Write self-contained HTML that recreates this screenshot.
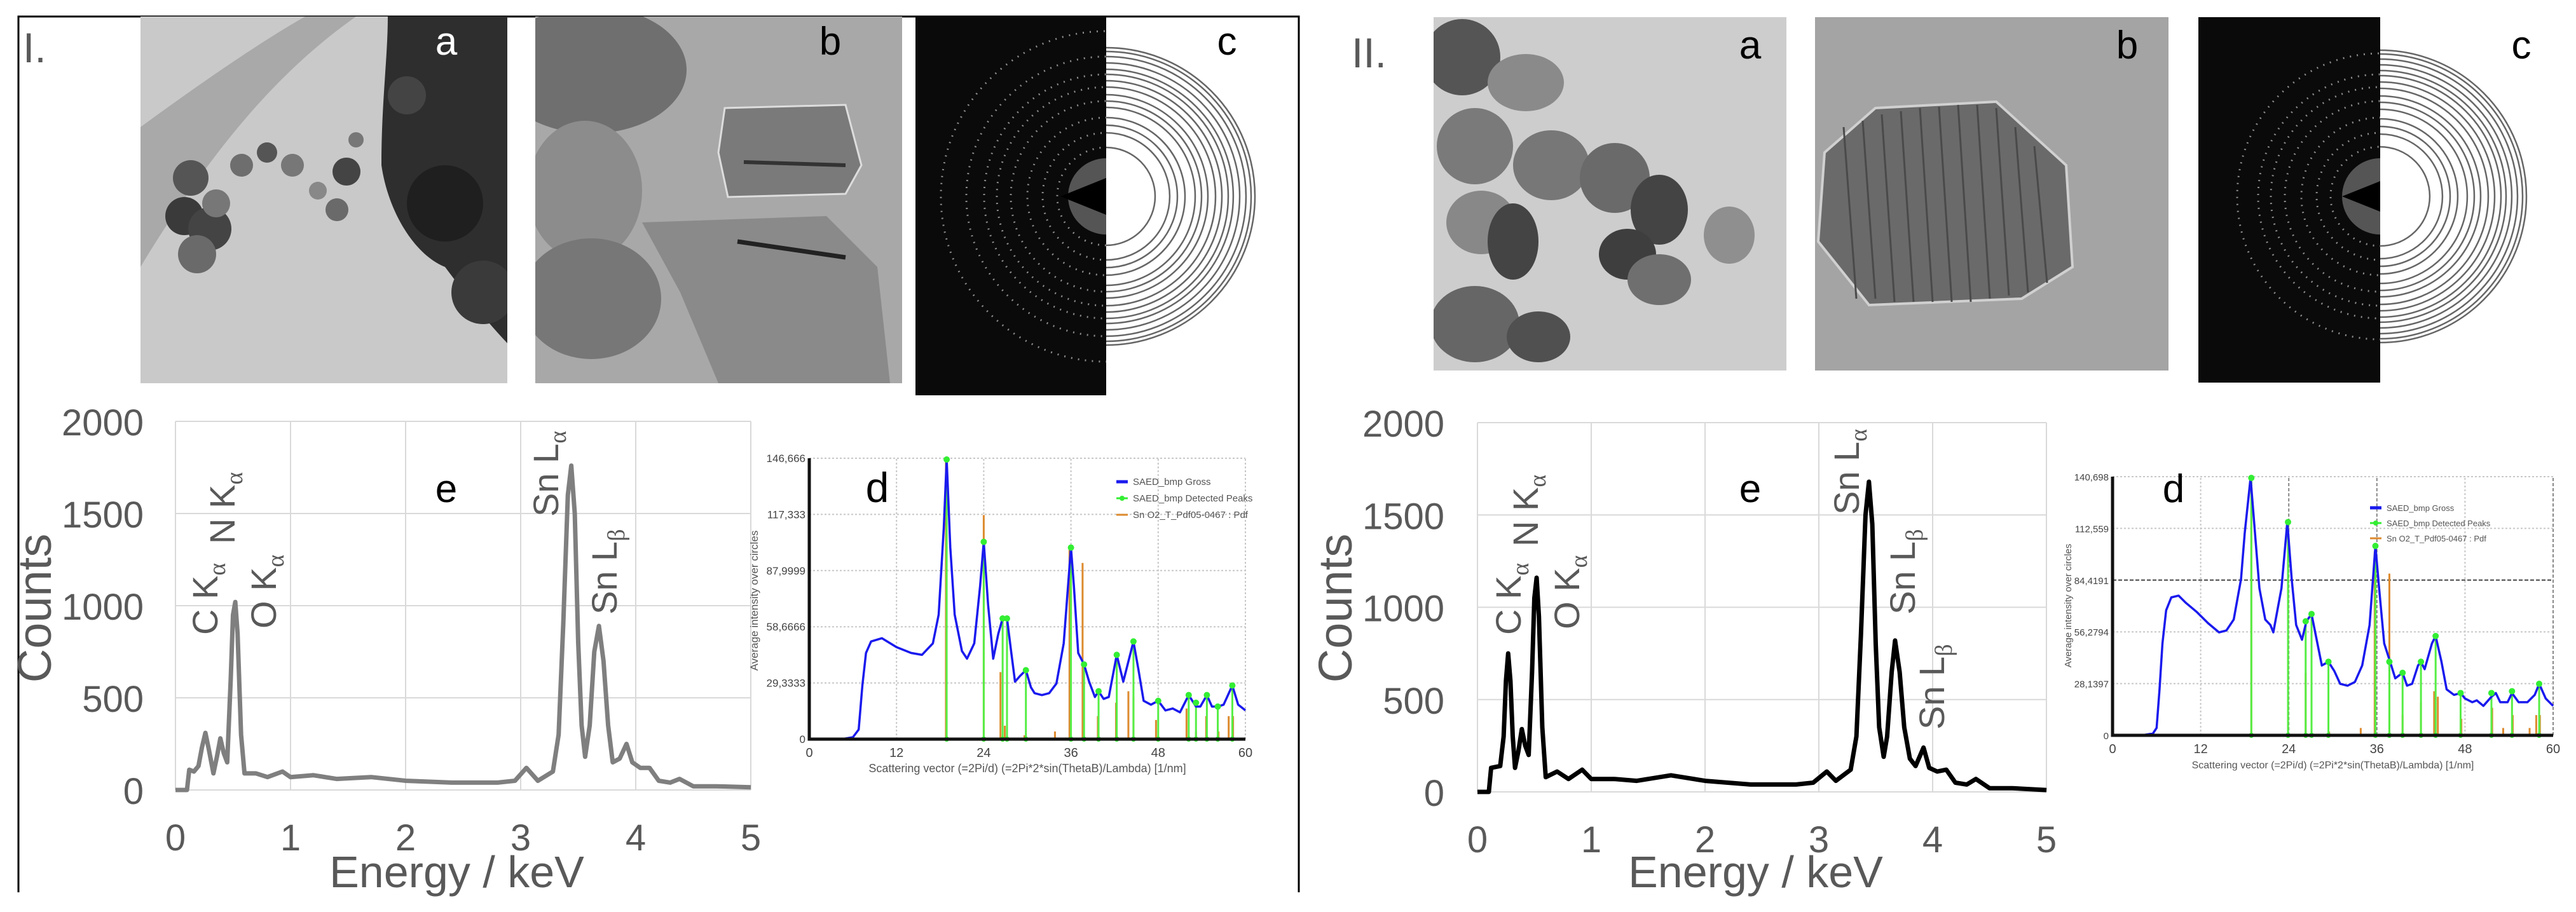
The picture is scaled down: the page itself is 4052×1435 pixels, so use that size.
<!DOCTYPE html>
<html><head><meta charset="utf-8"><style>
html,body{margin:0;padding:0;background:#fff;}
svg{display:block;font-family:"Liberation Sans",sans-serif;}
</style></head><body>
<svg id="fig" width="4052" height="1435" viewBox="0 0 4052 1435" xmlns="http://www.w3.org/2000/svg">
<defs>
<clipPath id="cA1"><rect x="221" y="26" width="577" height="577"/></clipPath>
<clipPath id="cB1"><rect x="842" y="26" width="577" height="577"/></clipPath>
<clipPath id="cC1"><rect x="1440" y="26" width="300" height="596"/></clipPath>
<clipPath id="cA2"><rect x="2255" y="27" width="555" height="556"/></clipPath>
<clipPath id="cB2"><rect x="2855" y="27" width="556" height="556"/></clipPath>
<clipPath id="cC2"><rect x="3458" y="27" width="286" height="575"/></clipPath>
</defs>
<polyline points="29,1404 29,26 2043,26 2043,1404" fill="none" stroke="#000" stroke-width="3"/>
<text x="36" y="98" font-size="66" fill="#595959">I.</text>
<text x="2126" y="106" font-size="66" fill="#595959">II.</text>

<g clip-path="url(#cA1)">
<rect x="221" y="26" width="577" height="577" fill="#c9c9c9"/>
<path d="M221,200 C330,120 420,60 480,26 L560,26 C470,90 360,190 221,420 Z" fill="#a9a9a9"/>
<g fill="#555">
<circle cx="300" cy="280" r="28"/><circle cx="290" cy="340" r="30" fill="#3a3a3a"/><circle cx="330" cy="360" r="34" fill="#444"/><circle cx="310" cy="400" r="30" fill="#6a6a6a"/><circle cx="340" cy="320" r="22" fill="#777"/>
<circle cx="380" cy="260" r="18" fill="#6e6e6e"/><circle cx="420" cy="240" r="16"/><circle cx="460" cy="260" r="18" fill="#777"/><circle cx="500" cy="300" r="14" fill="#888"/><circle cx="545" cy="270" r="22" fill="#444"/><circle cx="530" cy="330" r="18" fill="#6a6a6a"/><circle cx="560" cy="220" r="12" fill="#777"/>
</g>
<path d="M610,26 L798,26 L798,540 C760,500 730,460 700,420 C650,400 610,330 600,260 C600,160 610,90 610,26 Z" fill="#2e2e2e"/>
<circle cx="640" cy="150" r="30" fill="#444"/><circle cx="700" cy="320" r="60" fill="#1f1f1f"/><circle cx="760" cy="460" r="50" fill="#3a3a3a"/>
<rect x="221" y="603" width="577" height="19" fill="#000"/>
<line x1="443" y1="613" x2="513" y2="613" stroke="#fff" stroke-width="2"/>
<text x="522" y="618" font-size="11" fill="#fff">100 nm</text>
</g>
<text x="702" y="86" font-size="62" fill="#fff" text-anchor="middle">a</text>

<g clip-path="url(#cB1)">
<rect x="842" y="26" width="577" height="577" fill="#a8a8a8"/>
<ellipse cx="930" cy="110" rx="150" ry="100" fill="#6f6f6f"/>
<polygon points="1140,170 1330,165 1355,260 1330,305 1145,310 1130,240" fill="#7a7a7a" stroke="#ddd" stroke-width="3"/>
<line x1="1170" y1="255" x2="1330" y2="260" stroke="#333" stroke-width="6"/>
<ellipse cx="920" cy="300" rx="90" ry="110" fill="#8c8c8c"/>
<polygon points="1010,350 1300,340 1380,420 1400,603 1130,603 1070,460" fill="#8a8a8a"/>
<line x1="1160" y1="380" x2="1330" y2="405" stroke="#222" stroke-width="7"/>
<ellipse cx="930" cy="470" rx="110" ry="95" fill="#777"/>
<rect x="842" y="603" width="577" height="19" fill="#000"/>
<line x1="1075" y1="613" x2="1135" y2="613" stroke="#fff" stroke-width="2"/>
<text x="1142" y="618" font-size="11" fill="#fff">10 nm</text>
</g>
<text x="1306" y="86" font-size="62" fill="#000" text-anchor="middle">b</text>

<g clip-path="url(#cC1)">
<rect x="1440" y="26" width="300" height="596" fill="#0a0a0a"/>
<g fill="none" stroke="#8a8a8a" stroke-dasharray="2 9" stroke-width="3">
<circle cx="1740" cy="309" r="77"/><circle cx="1740" cy="309" r="100"/><circle cx="1740" cy="309" r="124"/><circle cx="1740" cy="309" r="150"/><circle cx="1740" cy="309" r="172"/><circle cx="1740" cy="309" r="192"/><circle cx="1740" cy="309" r="220"/><circle cx="1740" cy="309" r="260"/>
</g>
<circle cx="1740" cy="309" r="60" fill="#555"/>
<polygon points="1740,280 1740,338 1668,309" fill="#000"/>
</g>
<g id="rings1" fill="none" stroke="#666" stroke-width="2.5"></g>
<text x="1930" y="86" font-size="62" fill="#000" text-anchor="middle">c</text>

<g clip-path="url(#cA2)">
<rect x="2255" y="27" width="555" height="556" fill="#cdcdcd"/>
<g fill="#8a8a8a">
<ellipse cx="2300" cy="90" rx="60" ry="60" fill="#555"/><ellipse cx="2400" cy="130" rx="60" ry="45"/><ellipse cx="2320" cy="230" rx="60" ry="60" fill="#7a7a7a"/>
<ellipse cx="2440" cy="260" rx="60" ry="55" fill="#777"/><ellipse cx="2540" cy="280" rx="55" ry="55" fill="#6a6a6a"/><ellipse cx="2610" cy="330" rx="45" ry="55" fill="#444"/>
<ellipse cx="2330" cy="350" rx="55" ry="50" fill="#888"/><ellipse cx="2380" cy="380" rx="40" ry="60" fill="#444"/>
<ellipse cx="2560" cy="400" rx="45" ry="40" fill="#3e3e3e"/><ellipse cx="2610" cy="440" rx="50" ry="40" fill="#6f6f6f"/><ellipse cx="2720" cy="370" rx="40" ry="45" fill="#8f8f8f"/>
<ellipse cx="2320" cy="510" rx="70" ry="60" fill="#666"/><ellipse cx="2420" cy="530" rx="50" ry="40" fill="#505050"/>
</g>
<rect x="2255" y="583" width="555" height="19" fill="#000"/>
<line x1="2470" y1="593" x2="2537" y2="593" stroke="#fff" stroke-width="2"/>
<text x="2542" y="598" font-size="11" fill="#fff">50 nm</text>
</g>
<text x="2753" y="92" font-size="62" fill="#000" text-anchor="middle">a</text>

<g clip-path="url(#cB2)">
<rect x="2855" y="27" width="556" height="556" fill="#a4a4a4"/>
<polygon points="2950,170 3140,160 3250,260 3260,420 3180,470 2940,480 2860,380 2870,240" fill="#6a6a6a" stroke="#d0d0d0" stroke-width="4"/>
<g stroke="#4a4a4a" stroke-width="3">
<line x1="2900" y1="200" x2="2920" y2="470"/><line x1="2930" y1="190" x2="2950" y2="470"/><line x1="2960" y1="180" x2="2980" y2="475"/><line x1="2990" y1="175" x2="3010" y2="475"/><line x1="3020" y1="170" x2="3040" y2="475"/><line x1="3050" y1="168" x2="3070" y2="475"/><line x1="3080" y1="165" x2="3100" y2="475"/><line x1="3110" y1="165" x2="3130" y2="470"/><line x1="3140" y1="170" x2="3160" y2="465"/><line x1="3170" y1="200" x2="3190" y2="460"/><line x1="3200" y1="230" x2="3220" y2="445"/>
</g>
<rect x="2855" y="583" width="556" height="19" fill="#000"/>
<line x1="3083" y1="593" x2="3143" y2="593" stroke="#fff" stroke-width="2"/>
<text x="3148" y="598" font-size="11" fill="#fff">5 nm</text>
</g>
<text x="3346" y="92" font-size="62" fill="#000" text-anchor="middle">b</text>

<g clip-path="url(#cC2)">
<rect x="3458" y="27" width="286" height="575" fill="#0a0a0a"/>
<g fill="none" stroke="#8a8a8a" stroke-dasharray="2 9" stroke-width="3">
<circle cx="3744" cy="309" r="78"/><circle cx="3744" cy="309" r="100"/><circle cx="3744" cy="309" r="124"/><circle cx="3744" cy="309" r="150"/><circle cx="3744" cy="309" r="172"/><circle cx="3744" cy="309" r="192"/><circle cx="3744" cy="309" r="225"/>
</g>
<circle cx="3744" cy="309" r="60" fill="#555"/>
<polygon points="3744,285 3744,333 3684,309" fill="#000"/>
</g>
<g id="rings2" fill="none" stroke="#666" stroke-width="2.5"></g>
<text x="3966" y="92" font-size="62" fill="#000" text-anchor="middle">c</text>

<g id="charts"></g>

<g font-size="56" fill="#595959">
<text transform="translate(342,999) rotate(-90)">C K<tspan font-family="Liberation Serif" font-size="38" dy="12">α</tspan></text>
<text transform="translate(369,856) rotate(-90)">N K<tspan font-family="Liberation Serif" font-size="38" dy="12">α</tspan></text>
<text transform="translate(434,989) rotate(-90)">O K<tspan font-family="Liberation Serif" font-size="38" dy="12">α</tspan></text>
<text transform="translate(878,813) rotate(-90)">Sn L<tspan font-family="Liberation Serif" font-size="38" dy="12">α</tspan></text>
<text transform="translate(970,967) rotate(-90)">Sn L<tspan font-family="Liberation Serif" font-size="38" dy="12">β</tspan></text>
</g>
<text x="702" y="790" font-size="62" fill="#000" text-anchor="middle">e</text>
<g font-size="56" fill="#595959">
<text transform="translate(2392,999) rotate(-90)">C K<tspan font-family="Liberation Serif" font-size="38" dy="12">α</tspan></text>
<text transform="translate(2419,860) rotate(-90)">N K<tspan font-family="Liberation Serif" font-size="38" dy="12">α</tspan></text>
<text transform="translate(2484,990) rotate(-90)">O K<tspan font-family="Liberation Serif" font-size="38" dy="12">α</tspan></text>
<text transform="translate(2924,810) rotate(-90)">Sn L<tspan font-family="Liberation Serif" font-size="38" dy="12">α</tspan></text>
<text transform="translate(3012,967) rotate(-90)">Sn L<tspan font-family="Liberation Serif" font-size="38" dy="12">β</tspan></text>
<text transform="translate(3058,1148) rotate(-90)">Sn L<tspan font-family="Liberation Serif" font-size="38" dy="12">β</tspan></text>
</g>
<text x="2753" y="790" font-size="62" fill="#000" text-anchor="middle">e</text>
<text x="1380" y="790" font-size="66" fill="#000" text-anchor="middle">d</text>
<text x="3419" y="790" font-size="62" fill="#000" text-anchor="middle">d</text>
</svg>
<script>
const edsX1 = [0,0.1,0.12,0.16,0.2,0.23,0.26,0.29,0.33,0.36,0.39,0.42,0.45,0.48,0.5,0.52,0.54,0.57,0.6,0.7,0.8,0.93,1.0,1.2,1.4,1.7,2.0,2.4,2.8,2.95,3.05,3.15,3.28,3.33,3.37,3.41,3.44,3.47,3.5,3.53,3.56,3.6,3.64,3.68,3.72,3.76,3.8,3.86,3.92,3.97,4.04,4.12,4.2,4.3,4.38,4.5,4.7,5.0];
const edsY1 = [0,0,110,100,130,230,310,220,90,180,280,200,150,600,950,1020,850,300,90,90,70,100,70,80,60,70,50,40,40,50,120,50,100,300,900,1600,1760,1500,800,350,180,350,750,890,700,350,150,170,250,150,120,120,50,40,60,20,20,15];
const edsX2 = [0,0.1,0.12,0.2,0.23,0.25,0.27,0.29,0.31,0.33,0.36,0.39,0.42,0.45,0.48,0.5,0.52,0.54,0.57,0.6,0.7,0.8,0.92,1.0,1.2,1.4,1.7,2.0,2.4,2.8,2.95,3.07,3.15,3.28,3.33,3.37,3.41,3.44,3.47,3.5,3.53,3.57,3.6,3.64,3.67,3.71,3.75,3.8,3.85,3.92,3.97,4.04,4.12,4.2,4.3,4.38,4.5,4.7,5.0];
const edsY2 = [0,0,130,140,300,600,750,600,300,130,220,340,250,200,650,1050,1160,950,350,80,110,70,120,70,70,60,90,60,40,40,50,110,60,120,300,850,1500,1680,1450,800,350,190,300,650,820,650,350,180,140,240,130,110,120,50,40,70,20,20,10];
const edsXTicks = [0,1,2,3,4,5];
const edsYTicks = [0,500,1000,1500,2000];
const saedX1 = [0,4.5,6,6.8,7.3,7.8,8.5,10,12,14,15.5,17,17.8,18.5,18.9,19.4,20,21,21.7,22.7,23.5,24,24.6,25.3,26,26.6,27.2,27.8,28.3,29,29.8,30.5,31,32,33,34,35,35.6,36,36.4,37,37.8,38.5,39.3,39.8,40.5,41.2,42.3,43.2,44.6,45.3,46,47,48,49,50,51,52.2,53.2,53.8,54.7,55.4,56.2,57,58.2,59,60];
const saedY1 = [0,0,1000,5000,28000,45000,51000,52700,48000,45000,44000,50000,65000,110000,146000,100000,65000,46000,42000,50000,80000,103000,70000,42000,55000,63000,63000,45000,30000,33000,36000,27000,24000,23000,24000,29000,50000,80000,100000,80000,45000,39000,30000,22000,25000,21000,22000,44000,30000,51000,36000,20000,18000,20000,15000,16000,14000,23000,17000,17000,23000,17000,17000,18000,28000,18000,15000];
const peakX1 = [18.9,24,26.6,27.2,29.8,36,37.8,39.8,42.3,44.6,48,52.2,53.2,54.7,56.2,58.2];
const peakY1 = [146000,103000,63000,63000,36000,100000,39000,25000,44000,51000,20000,23000,19000,23000,17000,28000];
const refX1 = [18.8,24,26.3,26.9,29.6,33.8,35.8,37.6,39.7,42.2,43.9,44.6,47.7,51.9,53.2,54.6,56.3,57.7,58.3];
const refY1 = [146000,117000,35000,7000,2000,4000,100000,92000,12000,19000,25000,22000,10000,16000,4000,12000,4000,12000,12000];
const yTicks1 = [0,29333.2,58666.4,87999.6,117333,146666];
const yTickLabels1 = ["0","29,3333","58,6666","87,9999","117,333","146,666"];
const saedX2 = [0,4,5.5,6,6.4,6.8,7.3,8,9,10,11.5,13,14.5,15.5,16.5,17.5,18,18.8,19.3,20,20.8,21.5,21.9,23,23.8,24.4,25,25.8,26.4,27.1,27.8,28.5,29.4,30.2,31,32,33,34,35,35.8,36.3,37,37.8,38.5,39.5,40.1,40.8,41.6,42,42.5,43.5,44,44.8,45.5,46.5,47.4,48,49,49.6,50.5,51.6,52.2,52.8,53.8,54.4,55.3,56.5,57.5,58.1,59,60];
const saedY2 = [0,0,1000,4000,25000,50000,68000,75000,76000,72000,67000,61000,56000,57000,63000,85000,110000,140000,115000,80000,63000,60000,56000,80000,116000,85000,60000,52000,62000,66000,52000,38000,40000,35000,28000,27000,29000,38000,60000,103000,80000,50000,40000,31000,34000,27000,28000,38000,40000,36000,50000,54000,40000,25000,22000,23000,20000,18000,19000,16000,21000,23000,18000,18000,23000,18000,18000,22000,28000,20000,16000];
const peakX2 = [18.9,23.9,26.3,27.1,29.4,35.8,37.7,39.5,42,44,47.4,51.6,54.4,58.1];
const peakY2 = [140000,116000,62000,66000,40000,103000,40000,34000,40000,54000,23000,23000,24000,28000];
const refX2 = [18.9,23.9,26.3,27.1,29.5,33.8,35.7,37.7,39.5,42,43.8,44.3,47.5,51.7,53.2,54.5,56.8,57.7,58.2];
const refY2 = [140000,116000,34000,6000,2000,4000,100000,88000,11000,18000,24000,21000,9000,15000,4000,11000,4000,11000,11000];
const yTicks2 = [0,28139.7,56279.4,84419.1,112559,140698];
const yTickLabels2 = ["0","28,1397","56,2794","84,4191","112,559","140,698"];
const saedXTicks = [0,12,24,36,48,60];
const legendLabels = ["SAED_bmp Gross","SAED_bmp Detected Peaks","Sn O2_T_Pdf05-0467 : Pdf"];
const ringRadii1 = [77,100,112,124,140,150,160,172,182,192,200,210,220,228,234];
const ringRadii2 = [78,98,110,122,137,148,158,170,180,190,198,207,216,224,230];

const NS = "http://www.w3.org/2000/svg";
const root = document.getElementById('charts');
function mk(parent, tag, attrs, txt){
  const e = document.createElementNS(NS, tag);
  for (const k in attrs) e.setAttribute(k, attrs[k]);
  if (txt !== undefined) e.textContent = txt;
  parent.appendChild(e); return e;
}
function rings(id, cx, cy, radii){
  const g = document.getElementById(id);
  radii.forEach(r=>{
    const p = mk(g,'path',{d:`M${cx},${cy-r} A${r},${r} 0 0 1 ${cx},${cy+r}`});
    
    
  });
}
rings('rings1',1740,309,ringRadii1);
rings('rings2',3744,309,ringRadii2);

function eds(c, xs, ys, color, tag){
  const g = mk(root,'g',{});
  
  
  const sx = v => c.x0 + (v/5)*c.w;
  const sy = v => c.y0 - (v/2000)*c.h;
  edsXTicks.forEach(t=>{
    const l = mk(g,'line',{x1:sx(t),x2:sx(t),y1:sy(0),y2:sy(2000),stroke:'#d9d9d9','stroke-width':2});
    
    
    const tx = mk(g,'text',{x:sx(t),y:c.y0+95,'font-size':58,fill:'#595959','text-anchor':'middle'},String(t));
    
    
  });
  edsYTicks.forEach(t=>{
    const l = mk(g,'line',{x1:sx(0),x2:sx(5),y1:sy(t),y2:sy(t),stroke:'#d9d9d9','stroke-width':2});
    
    
    const tx = mk(g,'text',{x:c.lx,y:sy(t)+22,'font-size':58,fill:'#595959','text-anchor':'end'},String(t));
    
    
  });
  const pts = xs.map((x,i)=>sx(x).toFixed(1)+','+sy(ys[i]).toFixed(1)).join(' ');
  const pl = mk(g,'polyline',{points:pts,fill:'none',stroke:color,'stroke-width':7,'stroke-linejoin':'round'});
  
  
  const xt = mk(g,'text',{x:c.x0+c.w/2-10,y:1396,'font-size':70,fill:'#595959','text-anchor':'middle'},'Energy / keV');
  
  
  const yt = mk(g,'text',{transform:`translate(${c.tx},957) rotate(-90)`,'font-size':74,fill:'#595959','text-anchor':'middle'},'Counts');
  
  
}
eds({x0:276,w:905,y0:1243,h:580,lx:226,tx:80},edsX1,edsY1,'#7f7f7f','i');
eds({x0:2324,w:895,y0:1246,h:581,lx:2272,tx:2126},edsX2,edsY2,'#000','ii');

function saed(c, xs, ys, px, py, rx, ry, yt, ytl, tag){
  const g = mk(root,'g',{});
  
  
  const sx = v => c.x0 + (v/60)*c.w;
  const sy = v => c.y0 - (v/c.max)*c.h;
  saedXTicks.forEach(t=>{
    const dark = c.darkX.indexOf(t)>=0;
    const l = mk(g,'line',{x1:sx(t),x2:sx(t),y1:sy(0),y2:sy(c.max),stroke:dark?'#888':'#c8c8c8','stroke-width':2,'stroke-dasharray':dark?'5 3':'3 3'});
    
    
    const tx = mk(g,'text',{x:sx(t),y:c.y0+28,'font-size':20,fill:'#444','text-anchor':'middle'},String(t));
    
    
  });
  yt.forEach((t,i)=>{
    const dark = i===c.darkY;
    const l = mk(g,'line',{x1:sx(0),x2:sx(60),y1:sy(t),y2:sy(t),stroke:dark?'#666':'#c8c8c8','stroke-width':dark?2.5:2,'stroke-dasharray':dark?'6 3':'3 3'});
    
    
    const tx = mk(g,'text',{x:sx(0)-6,y:sy(t)+6,'font-size':c.fs,fill:'#444','text-anchor':'end'},ytl[i]);
    
    
  });
  rx.forEach((x,i)=>{
    const b = mk(g,'line',{x1:sx(x),x2:sx(x),y1:sy(0),y2:sy(ry[i]),stroke:'#dd8a2e','stroke-width':3});
    
    
  });
  px.forEach((x,i)=>{
    const b = mk(g,'line',{x1:sx(x),x2:sx(x),y1:sy(0),y2:sy(py[i]),stroke:'#55ee44','stroke-width':3});
    
    
  });
  const pts = xs.map((x,i)=>sx(x).toFixed(1)+','+sy(ys[i]).toFixed(1)).join(' ');
  const pl = mk(g,'polyline',{points:pts,fill:'none',stroke:'#1a1aee','stroke-width':3.5,'stroke-linejoin':'round'});
  
  
  px.forEach((x,i)=>{
    const m = mk(g,'circle',{cx:sx(x),cy:sy(py[i]),r:5,fill:'#33ee33'});
    
    
    const m2 = mk(g,'circle',{cx:sx(x),cy:sy(0),r:4,fill:'#33ee33'});
    
    
  });
  const ax = mk(g,'polyline',{points:`${sx(0)},${sy(c.max)} ${sx(0)},${sy(0)} ${sx(60)},${sy(0)}`,fill:'none',stroke:'#111','stroke-width':5});
  
  
  const xt = mk(g,'text',{x:c.x0+c.w/2,y:c.y0+52,'font-size':c.fs+1,fill:'#555','text-anchor':'middle'},'Scattering vector (=2Pi/d) (=2Pi*2*sin(ThetaB)/Lambda) [1/nm]');
  
  
  const ytt = mk(g,'text',{transform:`translate(${c.tx},${c.ty}) rotate(-90)`,'font-size':c.fs,fill:'#555','text-anchor':'middle'},'Average intensity over circles');
  
  
  const colors = ['#1a1aee','#33ee33','#dd8a2e'];
  legendLabels.forEach((lab,i)=>{
    const y = c.ly + i*c.lsp;
    const s = mk(g,'line',{x1:c.lx,x2:c.lx+18,y1:y,y2:y,stroke:colors[i],'stroke-width':i===0?5:3});
    
    
    if (i===1){
      const d = mk(g,'circle',{cx:c.lx+9,cy:y,r:4,fill:'#33ee33'});
      
      
    }
    const t = mk(g,'text',{x:c.lx+26,y:y+5,'font-size':c.fs-2,fill:'#555'},lab);
    
    
  });
}
saed({x0:1273,w:686,y0:1163,h:442,max:146666,darkX:[],darkY:-1,fs:17,tx:1192,ty:945,lx:1756,ly:758,lsp:26},
  saedX1,saedY1,peakX1,peakY1,refX1,refY1,yTicks1,yTickLabels1,'i');
saed({x0:3323,w:693,y0:1157,h:407,max:140698,darkX:[24,36,60],darkY:3,fs:15,tx:3258,ty:953,lx:3728,ly:799,lsp:24},
  saedX2,saedY2,peakX2,peakY2,refX2,refY2,yTicks2,yTickLabels2,'ii');
</script>
</body></html>
